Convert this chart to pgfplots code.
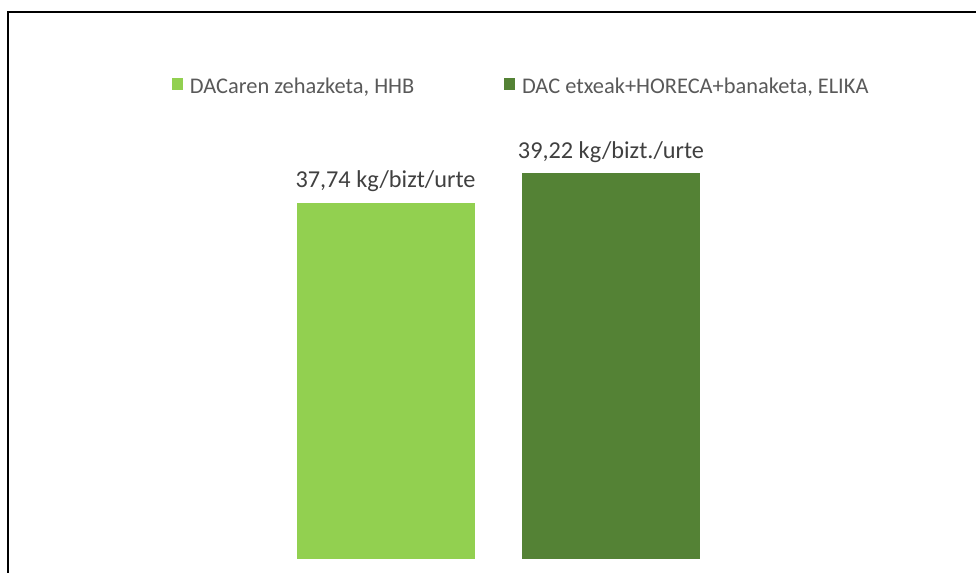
\documentclass[border=0pt]{standalone}
\usepackage{fontspec}
\setmainfont{Carlito}
\usepackage{pgfplots}
\pgfplotsset{compat=1.18}
\definecolor{lightgr}{HTML}{92D050}
\definecolor{darkgr}{HTML}{548235}
\definecolor{lbltext}{HTML}{404040}
\definecolor{legtext}{HTML}{595959}

\begin{document}
\begin{tikzpicture}[x=0.75pt,y=0.75pt]
\useasboundingbox (0,0) rectangle (976,573);
\clip (0,0) rectangle (976,573);
\begin{axis}[
  at={(0,7)}, anchor=south west,
  scale only axis,
  width=732pt, height=410.25pt,
  xmin=0, xmax=976,
  ymin=20, ymax=47.25,
  hide axis,
  clip=true,
  ybar, bar shift=0pt, bar width=133.5pt,
  point meta=explicit symbolic,
  nodes near coords,
  nodes near coords style={font=\fontsize{18.2}{21}\selectfont, text=lbltext, inner sep=0pt, anchor=base, yshift=11.25pt},
  legend columns=2,
  legend style={at={(0.1762,0.864)}, anchor=west, draw=none, fill=none, inner sep=0pt,
    font=\fontsize{16.8}{19}\selectfont, text=legtext,
    nodes={inner sep=0pt},
    /tikz/every odd column/.append style={column sep=5pt},
    /tikz/every even column/.append style={column sep=67.5pt}},
  legend image code/.code={\fill[#1] (0pt,-3pt) rectangle (8.25pt,6pt);},
]
\addplot[fill=lightgr, draw=none] coordinates {(385.5,37.74) [37,74 kg/bizt/urte]};
\addlegendentry{DACaren zehazketa, HHB}
\addplot[fill=darkgr, draw=none] coordinates {(611,39.22) [39,22 kg/bizt./urte]};
\addlegendentry{DAC etxeak+HORECA+banaketa, ELIKA}
\end{axis}
\draw[line width=1.1pt, black] (8,-10) -- (8,561) -- (990,561);
\end{tikzpicture}
\end{document}
